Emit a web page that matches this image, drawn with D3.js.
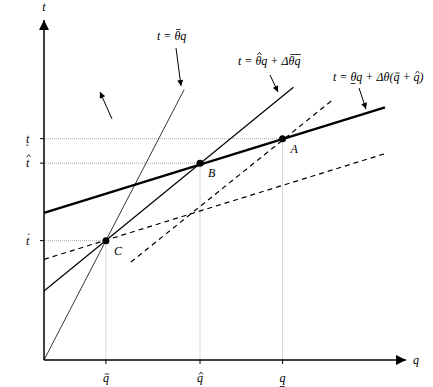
<!DOCTYPE html>
<html>
<head>
<meta charset="utf-8">
<script src="https://cdn.jsdelivr.net/npm/d3@7"></script>
<style>
  body { margin: 0; background: #fff; }
  text { font-family: "Liberation Serif", serif; font-style: italic; font-size: 12px; fill: #000; }
</style>
</head>
<body>
<script>
// values in chart units (q across, t up)
var qTicks = [17.1, 43.1, 65.9];
var qMarks = ["bar", "hat", "under"];
var tTicks = [35.1, 57.9, 65.1];
var tMarks = ["bar", "hat", "under"];

var pointNames = ["C", "B", "A"];
var pointQ = [17.1, 43.1, 65.9];
var pointT = [35.1, 57.9, 65.1];

// line segments [q0, t0, q1, t1]
var thinLine = [0, 0, 38.7, 79.5];
var midLine = [0, 20.3, 68.9, 80.2];
var thickLine = [0, 43.3, 94.2, 74.3];
var dashSteep = [24.0, 28.8, 79.5, 76.3];
var dashFlat = [0, 29.6, 93.9, 60.6];

var width = 433,
    height = 387;

var x = d3.scaleLinear().domain([0, 100]).range([44, 406]);
var y = d3.scaleLinear().domain([0, 100]).range([360, 20]);

let svg = d3.select("body").append("svg")
    .attr("width", width)
    .attr("height", height);

var defs = svg.append("defs");
defs.append("marker")
    .attr("id", "axisHead")
    .attr("viewBox", "0 0 10 10")
    .attr("refX", 10).attr("refY", 5)
    .attr("markerWidth", 10).attr("markerHeight", 10)
    .attr("markerUnits", "userSpaceOnUse")
    .attr("orient", "auto")
    .append("path").attr("d", "M0,0L10,5L0,10Z").attr("fill", "#000");
defs.append("marker")
    .attr("id", "smallHead")
    .attr("viewBox", "0 0 10 10")
    .attr("refX", 10).attr("refY", 5)
    .attr("markerWidth", 8).attr("markerHeight", 6)
    .attr("markerUnits", "userSpaceOnUse")
    .attr("orient", "auto")
    .append("path").attr("d", "M0,0L10,5L0,10Z").attr("fill", "#000");

// text with bars / hats / underlines drawn over characters
// parts: [string, deco, tall?]
function mathText(px, py, parts, anchor) {
  var t = svg.append("text").attr("x", px).attr("y", py);
  if (anchor) t.attr("text-anchor", anchor);
  parts.forEach(function(p) { t.append("tspan").text(p[0]); });
  var node = t.node();
  var idx = 0;
  parts.forEach(function(p) {
    var n = p[0].length;
    if (p[1]) {
      var a = node.getExtentOfChar(idx), b = node.getExtentOfChar(idx + n - 1);
      var x0 = a.x + 1, x1 = b.x + b.width - 0.5;
      var tall = p[2];
      if (p[1] == "bar") {
        var yy = tall ? py - 10.5 : py - 8;
        svg.append("line").attr("x1", x0 + 0.8).attr("x2", x1 + 0.8)
            .attr("y1", yy).attr("y2", yy)
            .attr("stroke", "#000").attr("stroke-width", 0.8);
      } else if (p[1] == "hat") {
        var cx = (x0 + x1) / 2 + 0.8, yt = tall ? py - 12.5 : py - 10;
        svg.append("path")
            .attr("d", "M" + (cx - 2) + "," + (yt + 2.5) + "L" + cx + "," + yt + "L" + (cx + 2) + "," + (yt + 2.5))
            .attr("fill", "none").attr("stroke", "#000").attr("stroke-width", 0.8);
      } else if (p[1] == "under") {
        var yb = tall ? py + 2.5 : py + 4.5;
        svg.append("line").attr("x1", x0 - 0.8).attr("x2", x1 - 0.5)
            .attr("y1", yb).attr("y2", yb)
            .attr("stroke", "#000").attr("stroke-width", 0.8);
      }
    }
    idx += n;
  });
  return t;
}

// dotted guides
pointQ.forEach(function(q, i) {
  svg.append("line")
      .attr("x1", x(0)).attr("y1", y(pointT[i]))
      .attr("x2", x(q)).attr("y2", y(pointT[i]))
      .attr("stroke", "#aaa").attr("stroke-width", 1).attr("stroke-dasharray", "1,1");
  svg.append("line")
      .attr("x1", x(q)).attr("y1", y(pointT[i]))
      .attr("x2", x(q)).attr("y2", y(0))
      .attr("stroke", "#aaa").attr("stroke-width", 1).attr("stroke-dasharray", "1,1");
});

function seg(s, w, dash) {
  var l = svg.append("line")
      .attr("x1", x(s[0])).attr("y1", y(s[1]))
      .attr("x2", x(s[2])).attr("y2", y(s[3]))
      .attr("stroke", "#000").attr("stroke-width", w);
  if (dash) l.attr("stroke-dasharray", dash);
  return l;
}

seg(dashSteep, 1.2, "5,4");
seg(dashFlat, 1.2, "5,4");
seg(thinLine, 0.8);
seg(midLine, 1.2);
seg(thickLine, 2.4);

// axes
svg.append("line")
    .attr("x1", x(0)).attr("y1", y(0))
    .attr("x2", x(0)).attr("y2", y(100))
    .attr("stroke", "#000").attr("stroke-width", 1.5)
    .attr("marker-end", "url(#axisHead)");
svg.append("line")
    .attr("x1", x(0)).attr("y1", y(0))
    .attr("x2", x(100)).attr("y2", y(0))
    .attr("stroke", "#000").attr("stroke-width", 1.5)
    .attr("marker-end", "url(#axisHead)");

svg.append("text").attr("x", x(0)).attr("y", 11).attr("text-anchor", "middle").text("t");
svg.append("text").attr("x", 413).attr("y", 364).text("q");

// tick marks and labels
qTicks.forEach(function(q, i) {
  svg.append("line")
      .attr("x1", x(q)).attr("x2", x(q))
      .attr("y1", y(0)).attr("y2", y(0) + 4)
      .attr("stroke", "#000");
  mathText(x(q) - 3, 382, [["q", qMarks[i], false]]);
});
tTicks.forEach(function(t, i) {
  svg.append("line")
      .attr("x1", x(0) - 4).attr("x2", x(0))
      .attr("y1", y(t)).attr("y2", y(t))
      .attr("stroke", "#000");
  mathText(26, y(t) + 4, [["t", tMarks[i], true]]);
});

// points
svg.selectAll(".pt")
    .data(pointQ)
    .enter()
    .append("circle")
    .attr("cx", function(d) { return x(d); })
    .attr("cy", function(d, i) { return y(pointT[i]); })
    .attr("r", 3.5)
    .attr("fill", "#000");
svg.selectAll(".ptlab")
    .data(pointQ)
    .enter()
    .append("text")
    .attr("x", function(d) { return x(d) + 8; })
    .attr("y", function(d, i) { return y(pointT[i]) + 14; })
    .text(function(d, i) { return pointNames[i]; });

// line labels
mathText(157, 40, [["t = "], ["\u03B8", "bar", true], ["q"]]);
mathText(238, 65, [["t = "], ["\u03B8", "hat", true], ["q + \u0394"], ["\u03B8q", "bar", true]]);
mathText(333, 81, [["t = "], ["\u03B8", "under", true], ["q + \u0394\u03B8("], ["q", "bar", false], [" + "], ["q", "hat", false], [")"]]);

function pointer(x1, y1, x2, y2) {
  svg.append("line")
      .attr("x1", x1).attr("y1", y1)
      .attr("x2", x2).attr("y2", y2)
      .attr("stroke", "#000").attr("stroke-width", 1)
      .attr("marker-end", "url(#smallHead)");
}
pointer(176, 48, 181, 86);
pointer(270, 75, 278, 92);
pointer(359, 88, 366, 109);
pointer(112, 119, 100, 92);
</script>
</body>
</html>
